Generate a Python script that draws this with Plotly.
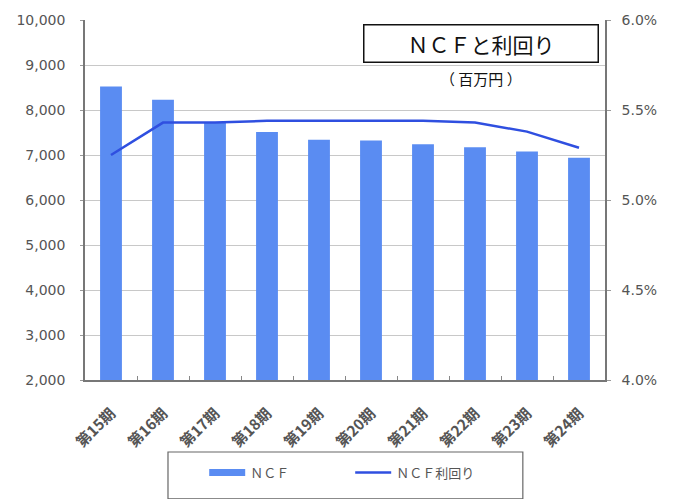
import plotly.graph_objects as go

# Fiscal periods and values
periods = ["第15期", "第16期", "第17期", "第18期", "第19期",
           "第20期", "第21期", "第22期", "第23期", "第24期"]
ncf = [8520, 8230, 7720, 7510, 7340, 7320, 7240, 7170, 7080, 6940]   # 百万円
ncf_yield = [5.25, 5.43, 5.43, 5.44, 5.44, 5.44, 5.44, 5.43, 5.38, 5.29]  # %

left_ticks = [2000, 3000, 4000, 5000, 6000, 7000, 8000, 9000, 10000]
right_ticks = [4.0, 4.5, 5.0, 5.5, 6.0]
right_labels = ["4.0%", "4.5%", "5.0%", "5.5%", "6.0%"]

BAR_COLOR = "#5a8cf2"
LINE_COLOR = "#2f4fe0"
TICK_FONT = dict(family="DejaVu Sans", size=14, color="#555555")
JP_FONT = "Noto Sans CJK JP"

fig = go.Figure()
fig.add_trace(go.Bar(
    x=periods, y=ncf, name="ＮＣＦ", marker_color=BAR_COLOR,
    marker_line_width=0, width=0.42, yaxis="y", showlegend=False,
))
# Legend key for the bars, drawn as a thick stroke
fig.add_trace(go.Scatter(
    x=[None], y=[None], name="ＮＣＦ", mode="lines",
    line=dict(color=BAR_COLOR, width=7), yaxis="y",
))
fig.add_trace(go.Scatter(
    x=periods, y=ncf_yield, name="ＮＣＦ利回り", mode="lines",
    line=dict(color=LINE_COLOR, width=2.5), yaxis="y2",
))

fig.update_layout(
    width=678, height=499,
    margin=dict(l=85, r=73, t=20, b=109),
    paper_bgcolor="white", plot_bgcolor="white",
    showlegend=True,
    legend=dict(
        orientation="h", x=0.51, xanchor="center", y=-0.257, yanchor="middle",
        font=dict(family=JP_FONT, size=13, color="#555555"),
        bgcolor="rgba(0,0,0,0)", itemwidth=36, entrywidth=95,
    ),
    xaxis=dict(
        tickangle=-45,
        tickfont=dict(family=JP_FONT, size=15, color="#555555", weight="bold"),
        showline=True, linecolor="#777777", linewidth=1.5,
        ticks="inside", tickson="boundaries", ticklen=4, tickcolor="#888888",
        showgrid=False, ticklabelstandoff=17,
    ),
    yaxis=dict(
        range=[2000, 10000], tickvals=left_ticks, tickformat=",d",
        tickfont=TICK_FONT, showline=True, linecolor="#777777", linewidth=1.5,
        gridcolor="#c8c8c8", gridwidth=1, ticks="outside", ticklen=3,
        tickcolor="#999999", ticklabelstandoff=12, zeroline=False,
    ),
    yaxis2=dict(
        range=[4.0, 6.0], tickvals=right_ticks, ticktext=right_labels,
        overlaying="y", side="right", tickfont=TICK_FONT,
        showline=True, linecolor="#777777", linewidth=1.5, showgrid=False,
        ticks="outside", ticklen=4, tickcolor="#999999", ticklabelstandoff=8,
        zeroline=False,
    ),
)

# Legend frame
fig.add_shape(type="rect", xref="paper", yref="paper",
              x0=0.1596, x1=0.842, y0=-0.2, y1=-0.33,
              line=dict(color="#666666", width=1.2), fillcolor="rgba(0,0,0,0)")

# Chart title box and unit note
fig.add_annotation(
    xref="paper", yref="paper", x=0.7615, y=0.935, xanchor="center", yanchor="middle",
    text="ＮＣＦと利回り", showarrow=False,
    font=dict(family=JP_FONT, size=21, color="#111111"),
    bordercolor="#111111", borderwidth=1.5, bgcolor="white",
    width=231, height=34,
)
fig.add_annotation(
    xref="paper", yref="paper", x=0.7615, y=0.838, xanchor="center", yanchor="middle",
    text="（ 百万円 ）", showarrow=False,
    font=dict(family=JP_FONT, size=15, color="#111111"),
)

fig.write_html("out.html")
